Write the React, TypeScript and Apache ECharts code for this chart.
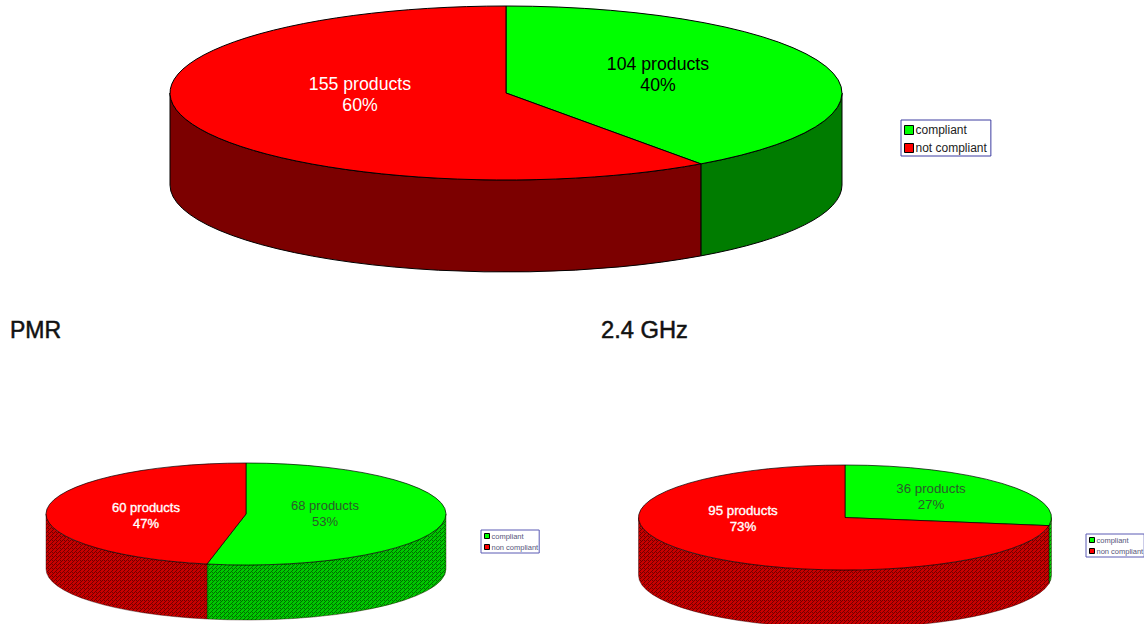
import React, { useEffect, useRef } from "react";
import * as echarts from "echarts";

// Product counts per survey group: compliant first, then not compliant.
const overallValues = [104, 155];
const pmrValues = [68, 60];
const ghzValues = [36, 95];

const overallNames = ["compliant", "not compliant"];
const bandNames = ["compliant", "non compliant"];
const bandTitles = ["PMR", "2.4 GHz"];

const TOP_COLORS = ["#00ff00", "#ff0000"];
const SIDE_COLORS = ["#007c00", "#7c0000"];
const FONT = '"Liberation Sans", Arial, sans-serif';

type Disc = {
  values: number[];
  names: string[];
  cx: number;
  cy: number;
  rx: number;
  ry: number;
  depth: number;
  font: number;
  line: number;
  labelAt: [number, number][];
  textColors: string[];
  stroke: number;
  dithered: boolean;
};

const discs: Disc[] = [
  {
    values: overallValues, names: overallNames,
    cx: 506, cy: 93, rx: 336, ry: 87, depth: 92,
    font: 17.7, line: 21,
    labelAt: [[658, 74], [360, 94]],
    textColors: ["#000000", "#ffffff"],
    stroke: 1, dithered: false,
  },
  {
    values: pmrValues, names: bandNames,
    cx: 246, cy: 514, rx: 200, ry: 51, depth: 55,
    font: 13, line: 16,
    labelAt: [[325, 513], [146, 515]],
    textColors: ["#2c5a2c", "#ffffff"],
    stroke: 0.7, dithered: true,
  },
  {
    values: ghzValues, names: bandNames,
    cx: 845, cy: 517.5, rx: 206.5, ry: 52.5, depth: 58,
    font: 13.3, line: 16,
    labelAt: [[931, 496], [743, 518]],
    textColors: ["#2c5a2c", "#ffffff"],
    stroke: 0.7, dithered: true,
  },
];

// Small repeating tile that gives the lower discs their dotted side walls.
function ditherTile(light: string, dark: string) {
  const c = document.createElement("canvas");
  c.width = 4;
  c.height = 4;
  const g = c.getContext("2d")!;
  g.fillStyle = light;
  g.fillRect(0, 0, 4, 4);
  g.fillStyle = dark;
  for (const [x, y] of [[0, 0], [2, 0], [0, 2], [1, 1], [3, 3]]) {
    g.fillRect(x, y, 1, 1);
  }
  return { image: c, repeat: "repeat", imageWidth: 4, imageHeight: 4 };
}

function sliceSeries(disc: Disc, index: number, tiles: any[]) {
  const total = disc.values.reduce((a, b) => a + b, 0);
  const before = disc.values.slice(0, index).reduce((a, b) => a + b, 0);
  const name = disc.names[index];
  return {
    type: "custom",
    name,
    coordinateSystem: "none",
    silent: true,
    itemStyle: { color: TOP_COLORS[index] },
    data: [[disc.values[index]]],
    renderItem: (_params: any, api: any) => {
      const value = api.value(0) as number;
      const a0 = (before / total) * Math.PI * 2;
      const a1 = ((before + value) / total) * Math.PI * 2;
      const px = (a: number) => disc.cx + disc.rx * Math.sin(a);
      const py = (a: number) => disc.cy - disc.ry * Math.cos(a);
      const R = `${disc.rx} ${disc.ry}`;
      const large = a1 - a0 > Math.PI ? 1 : 0;
      const children: any[] = [];

      // Visible wall: the part of the slice on the front half of the rim.
      const s = Math.max(a0, Math.PI / 2);
      const e = Math.min(a1, (Math.PI * 3) / 2);
      if (e > s) {
        const wall =
          `M${px(s)} ${py(s)} A${R} 0 0 1 ${px(e)} ${py(e)} ` +
          `L${px(e)} ${py(e) + disc.depth} A${R} 0 0 0 ${px(s)} ${py(s) + disc.depth} Z`;
        children.push({
          type: "path",
          shape: { pathData: wall },
          style: {
            fill: disc.dithered ? tiles[index] : SIDE_COLORS[index],
            stroke: disc.dithered ? "#2a0000" : "#000000",
            lineWidth: disc.dithered ? 0.4 : disc.stroke,
          },
        });
      }

      const top =
        `M${disc.cx} ${disc.cy} L${px(a0)} ${py(a0)} ` +
        `A${R} 0 ${large} 1 ${px(a1)} ${py(a1)} Z`;
      children.push({
        type: "path",
        shape: { pathData: top },
        style: { fill: TOP_COLORS[index], stroke: "#000000", lineWidth: disc.stroke },
      });

      const [lx, ly] = disc.labelAt[index];
      const light = disc.textColors[index] === "#ffffff";
      children.push({
        type: "text",
        style: {
          x: lx,
          y: ly,
          text: `${value} products\n${Math.round((value / total) * 100)}%`,
          fill: disc.textColors[index],
          stroke: disc.dithered && light ? "#ffffff" : undefined,
          lineWidth: disc.dithered && light ? 0.35 : 0,
          fontFamily: FONT,
          fontSize: disc.font,
          lineHeight: disc.line,
          align: "center",
          verticalAlign: "middle",
        },
      });
      return { type: "group", children };
    },
  };
}

function legendBox(names: string[], left: number, top: number, small: boolean) {
  return {
    left,
    top,
    orient: "vertical",
    backgroundColor: "#ffffff",
    borderColor: small ? "#5a5ab4" : "#3c3ca0",
    borderWidth: 1,
    borderRadius: 0,
    padding: small ? [2, 1, 2, 3] : [4, 4, 2, 3],
    itemWidth: small ? 5 : 9,
    itemHeight: small ? 5 : 9,
    itemGap: small ? 3 : 6,
    icon: "rect",
    itemStyle: { borderColor: "#000000", borderWidth: 1 },
    textStyle: {
      fontFamily: FONT,
      fontSize: small ? 7.5 : 12,
      color: small ? "#55557a" : "#222222",
      padding: [0, 0, 0, -3],
    },
    selectedMode: false,
    data: names,
  };
}

export default function App() {
  const ref = useRef<HTMLDivElement>(null);
  useEffect(() => {
    document.body.style.margin = "0";
    const chart = echarts.init(ref.current!, undefined, { renderer: "svg" });
    const tiles = [ditherTile("#00c800", "#006c00"), ditherTile("#c80000", "#700000")];
    chart.setOption({
      animation: false,
      backgroundColor: "#ffffff",
      legend: [
        legendBox(overallNames, 901, 120, false),
        legendBox(bandNames, 481, 530, true),
        legendBox(bandNames, 1086, 534, true),
      ],
      series: discs.flatMap((d) => d.values.map((_, i) => sliceSeries(d, i, tiles))),
      graphic: bandTitles.map((t, i) => ({
        type: "text",
        x: i === 0 ? 10 : 601,
        y: 330,
        style: {
          text: t,
          fill: "#111111",
          stroke: "#111111",
          lineWidth: 0.5,
          fontFamily: FONT,
          fontSize: i === 0 ? 23 : 23.7,
          verticalAlign: "middle",
        },
      })),
    });
    return () => chart.dispose();
  }, []);
  return <div ref={ref} style={{ width: 1144, height: 624 }} />;
}
